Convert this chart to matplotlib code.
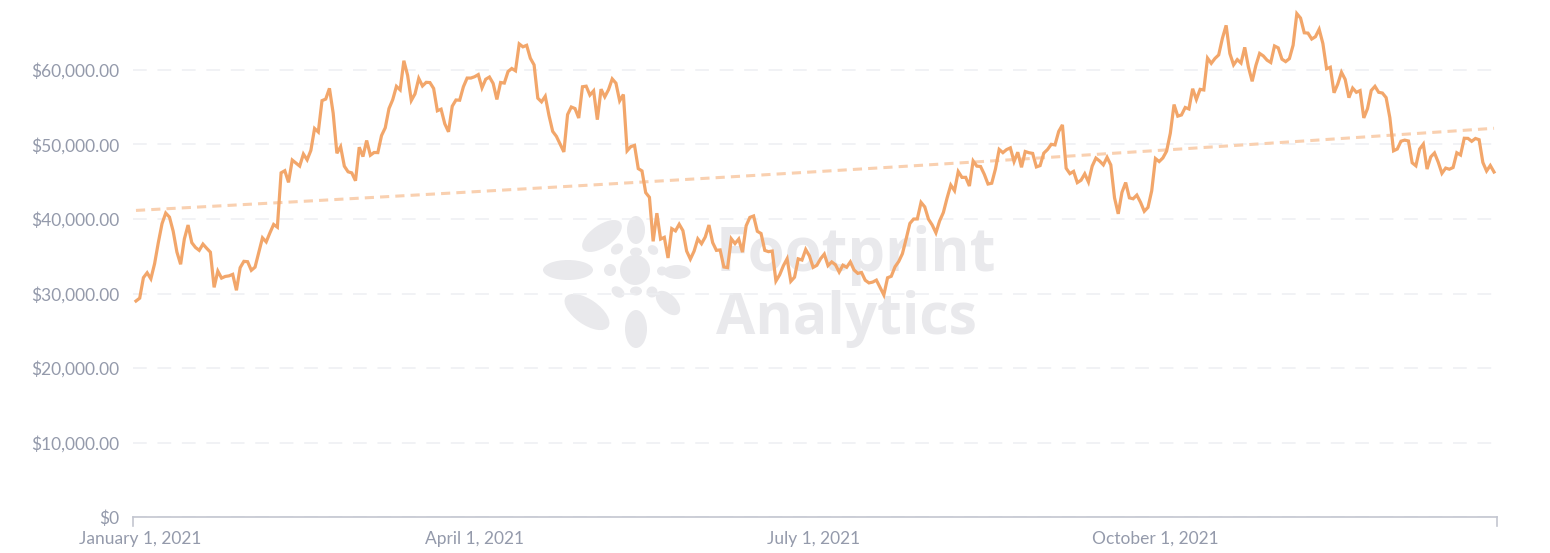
import numpy as np
import pandas as pd
import matplotlib
matplotlib.use("Agg")
import matplotlib.pyplot as plt
from matplotlib.patches import Ellipse
from matplotlib.ticker import FuncFormatter


# daily BTC price (USD), first point is Dec 31, 2020
dec_2020 = [28990]
jan = [29374, 32127, 32782, 31971, 33992, 36824, 39371, 40797, 40254, 38356,
       35566, 33922, 37316, 39187, 36825, 36178, 35792, 36630, 36070, 35547,
       30825, 33005, 32067, 32289, 32366, 32569, 30432, 33466, 34316, 34269,
       33114]
feb = [33538, 35510, 37473, 36926, 38144, 39266, 38903, 46196, 46481, 44918,
       47910, 47505, 47105, 48717, 47945, 49199, 52149, 51679, 55888, 56099,
       57539, 54207, 48824, 49705, 47093, 46339, 46188, 45137]
mar = [49631, 48378, 50538, 48561, 48927, 48912, 51206, 52246, 54824, 56008,
       57805, 57332, 61243, 59302, 55907, 56804, 58870, 57858, 58346, 58313,
       57523, 54529, 54738, 52774, 51704, 55137, 55974, 55947, 57750, 58918,
       58918]
apr = [59095, 59384, 57603, 58759, 59057, 58192, 56048, 58323, 58245, 59793,
       60204, 59893, 63503, 63110, 63314, 61572, 60683, 56216, 55724, 56473,
       53906, 51762, 51093, 50050, 49004, 54021, 55033, 54824, 53555, 57750]
may = [57828, 56631, 57200, 53333, 57424, 56396, 57356, 58803, 58232, 55859,
       56704, 49150, 49716, 49880, 46760, 46456, 43537, 42909, 37002, 40782,
       37304, 37536, 34770, 38705, 38402, 39295, 38436, 35697, 34616, 35678,
       37332]
jun = [36684, 37575, 39188, 36825, 35791, 35849, 33560, 33473, 37346, 36703,
       37313, 35551, 39098, 40218, 40406, 38348, 38053, 35787, 35615, 35698,
       31676, 32505, 33724, 34662, 31637, 32186, 34650, 34494, 35911, 35045]
jul = [33504, 33786, 34669, 35287, 33746, 34235, 33855, 32877, 33798, 33520,
       34240, 33155, 32702, 32822, 31780, 31421, 31533, 31796, 30817, 29807,
       32110, 32313, 33581, 34292, 35350, 37337, 39406, 39995, 40008, 42235,
       41626]
aug = [39974, 39201, 38152, 39747, 40869, 42816, 44555, 43798, 46365, 45585,
       45593, 44428, 47793, 47096, 47047, 46004, 44695, 44802, 46717, 49339,
       48905, 49321, 49546, 47706, 48960, 46942, 49058, 48897, 48806, 46991,
       47166]
sep = [48847, 49327, 50025, 49944, 51753, 52633, 46811, 46091, 46391, 44883,
       45201, 46063, 44963, 47092, 48176, 47783, 47267, 48278, 47260, 42843,
       40693, 43574, 44895, 42839, 42716, 43208, 42235, 41034, 41564, 43790]
oct = [48116, 47711, 48199, 49112, 51514, 55361, 53805, 53967, 54968, 54771,
       57484, 56041, 57401, 57321, 61593, 60892, 61553, 62026, 64262, 65992,
       62210, 60692, 61393, 60931, 63039, 60364, 58482, 60622, 62227, 61888,
       61318]
nov = [61004, 63226, 62970, 61452, 61125, 61527, 63327, 67566, 66971, 64995,
       64950, 64155, 64469, 65466, 63557, 60161, 60368, 56943, 58119, 59697,
       58730, 56289, 57570, 57005, 57229, 53569, 54815, 57248, 57806, 57005]
dec = [56908, 56292, 53602, 49153, 49396, 50441, 50588, 50471, 47545, 47141,
       49390, 50053, 46702, 48343, 48864, 47632, 46131, 46834, 46681, 46914,
       48889, 48588, 50838, 50820, 50429, 50809, 50640, 47588, 46444, 47178,
       46306]

prices = np.array(dec_2020 + jan + feb + mar + apr + may + jun + jul + aug
                  + sep + oct + nov + dec, dtype=float)
dates = pd.date_range("2020-12-31", periods=len(prices), freq="D")

y_ticks = [0, 10000, 20000, 30000, 40000, 50000, 60000]
x_tick_dates = pd.to_datetime(["2021-01-01", "2021-04-01", "2021-07-01", "2021-10-01"])
x_tick_labels = ["January 1, 2021", "April 1, 2021", "July 1, 2021", "October 1, 2021"]

line_color = "#F2A66A"
trend_color = "#F9D0B0"
text_color = "#949AAB"

# exponential trend line fitted on the series
t = np.arange(len(prices))
coef = np.polyfit(t, np.log(prices), 1)
trend = np.exp(np.polyval(coef, t))

W, H = 1550, 553
fig = plt.figure(figsize=(W / 100, H / 100), dpi=100)

# watermark layer in pixel coordinates
wm = fig.add_axes([0, 0, 1, 1])
wm.set_xlim(0, W)
wm.set_ylim(H, 0)
wm.axis("off")
wm.set_zorder(0)
wm_color = "#E9E9EC"
petals = [
    (635, 270, 30, 30, 0), (568, 270, 50, 20, 0), (602, 236, 46, 22, -35),
    (587, 312, 52, 25, 35), (636, 230, 18, 28, 0), (636, 329, 22, 38, 0),
    (677, 272, 27, 14, 0), (668, 303, 30, 17, 45), (610, 270, 12, 12, 0),
    (617, 249, 13, 10, -35), (653, 250, 11, 9, 35), (618, 292, 14, 10, 35),
    (652, 292, 11, 11, -35), (662, 271, 10, 9, 0), (636, 252, 12, 9, 0),
    (636, 291, 12, 9, 0),
]
for cx, cy, w, h, ang in petals:
    wm.add_patch(Ellipse((cx, cy), w, h, angle=ang, color=wm_color, lw=0))
wm.text(716, 255, "Footprint", fontsize=43, fontweight="bold", family="Open Sans",
        color=wm_color, va="center", ha="left")
wm.text(716, 319, "Analytics", fontsize=41, fontweight="bold", family="Open Sans",
        color=wm_color, va="center", ha="left")

left, right, bottom_px = 133, 1497, 517
ax = fig.add_axes([left / W, (H - bottom_px) / H, (right - left) / W, bottom_px / H])
ax.set_zorder(1)
ax.patch.set_alpha(0)

ax.plot(dates, trend, color=trend_color, lw=2.2, linestyle=(0, (3, 2)))
ax.plot(dates, prices, color=line_color, lw=2.3, solid_joinstyle="miter")

day = pd.Timedelta(days=0.8)
ax.set_xlim(dates[0] - day, dates[-1] + day)
ax.set_ylim(0, bottom_px / 7.45 * 1000)

ax.set_yticks(y_ticks)
ax.yaxis.set_major_formatter(FuncFormatter(lambda v, p: "$0" if v == 0 else f"${v:,.2f}"))
ax.set_xticks(x_tick_dates)
ax.set_xticklabels(x_tick_labels)
ax.tick_params(axis="y", length=0, pad=10, labelsize=12.5, labelcolor=text_color)
ax.tick_params(axis="x", length=0, pad=10, labelsize=12.5, labelcolor=text_color)
for lab in ax.get_xticklabels() + ax.get_yticklabels():
    lab.set_family("Lato")

ax.yaxis.grid(True, color="#EEEFF2", lw=1.1, linestyle=(0, (9, 7)))
ax.set_axisbelow(True)
for side in ["top", "right", "left"]:
    ax.spines[side].set_visible(False)
ax.spines["bottom"].set_color("#C3C6D0")
ax.spines["bottom"].set_linewidth(1.2)
# small end ticks on the x axis
for xe in [0, 1]:
    ax.plot([xe, xe], [0, -0.018], transform=ax.transAxes, color="#C3C6D0",
            lw=1.2, clip_on=False)

fig.savefig("out.png", dpi=100)
